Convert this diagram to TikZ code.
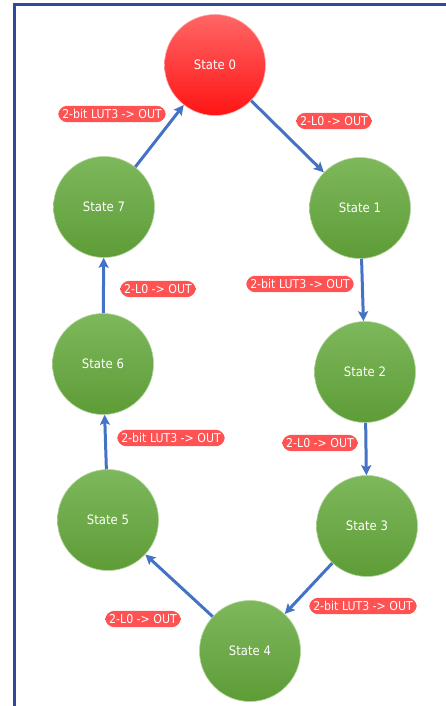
\documentclass[tikz,border=0pt]{standalone}
\usepackage{fontspec}
\setmainfont{DejaVu Sans Condensed}
\usepackage{xcolor}
\usepackage{tikz}
\usetikzlibrary{arrows.meta}
\definecolor{edgec}{HTML}{4472C4}
\definecolor{framec}{HTML}{2E4A9A}
\definecolor{redtop}{HTML}{FF6666}
\definecolor{redbot}{HTML}{FF1414}
\definecolor{greentop}{HTML}{7DB85C}
\definecolor{greenbot}{HTML}{5E9C37}
\definecolor{tagc}{HTML}{FF5252}

\begin{document}
\begin{tikzpicture}[
  x=1pt, y=-1pt,
  >={Stealth[length=10pt, width=10pt, inset=2pt]},
  state/.style={circle, minimum size=101pt, inner sep=0pt, text=white,
                font=\fontsize{13}{15}\selectfont, top color=greentop, bottom color=greenbot,
                draw=greentop!60!white, line width=0.6pt},
  initstate/.style={state, top color=redtop, bottom color=redbot, draw=redtop!55!white},
  tag/.style={rounded corners=9pt, fill=tagc, text=white, font=\fontsize{12.2}{14}\selectfont,
              inner xsep=4pt, inner ysep=3.5pt},
  arr/.style={->, line width=3pt, draw=edgec},
]
\clip (0,0) rectangle (446,706);
\draw[framec, line width=3pt] (14.5,5) rectangle (470,730);

% ---------------- states ----------------
\node[initstate] (s0) at (215,65)  {State 0};
\node[state]     (s1) at (360,208) {State 1};
\node[state]     (s2) at (365,372) {State 2};
\node[state]     (s3) at (367,526) {State 3};
\node[state]     (s4) at (250,651) {State 4};
\node[state]     (s5) at (108,520) {State 5};
\node[state]     (s6) at (103,364) {State 6};
\node[state]     (s7) at (104,207) {State 7};

% ---------------- transitions ----------------
\draw[arr] (s0) -- (s1);
\draw[arr] (s1) -- (s2);
\draw[arr] (s2) -- (s3);
\draw[arr] (s3) -- (s4);
\draw[arr] (s4) -- (s5);
\draw[arr] (s5) -- (s6);
\draw[arr] (s6) -- (s7);
\draw[arr] (s7) -- (s0);

% ---------------- outputs ----------------
\node[tag] (t01) at (334,121) {2-L0 -> OUT};
\node[tag] (t12) at (300,284) {2-bit LUT3 -> OUT};
\node[tag] (t23) at (320,443) {2-L0 -> OUT};
\node[tag] (t34) at (363,606) {2-bit LUT3 -> OUT};
\node[tag] (t45) at (143,619) {2-L0 -> OUT};
\node[tag] (t56) at (171,438) {2-bit LUT3 -> OUT};
\node[tag] (t67) at (158,289) {2-L0 -> OUT};
\node[tag] (t70) at (112,114) {2-bit LUT3 -> OUT};

\end{tikzpicture}
\end{document}
